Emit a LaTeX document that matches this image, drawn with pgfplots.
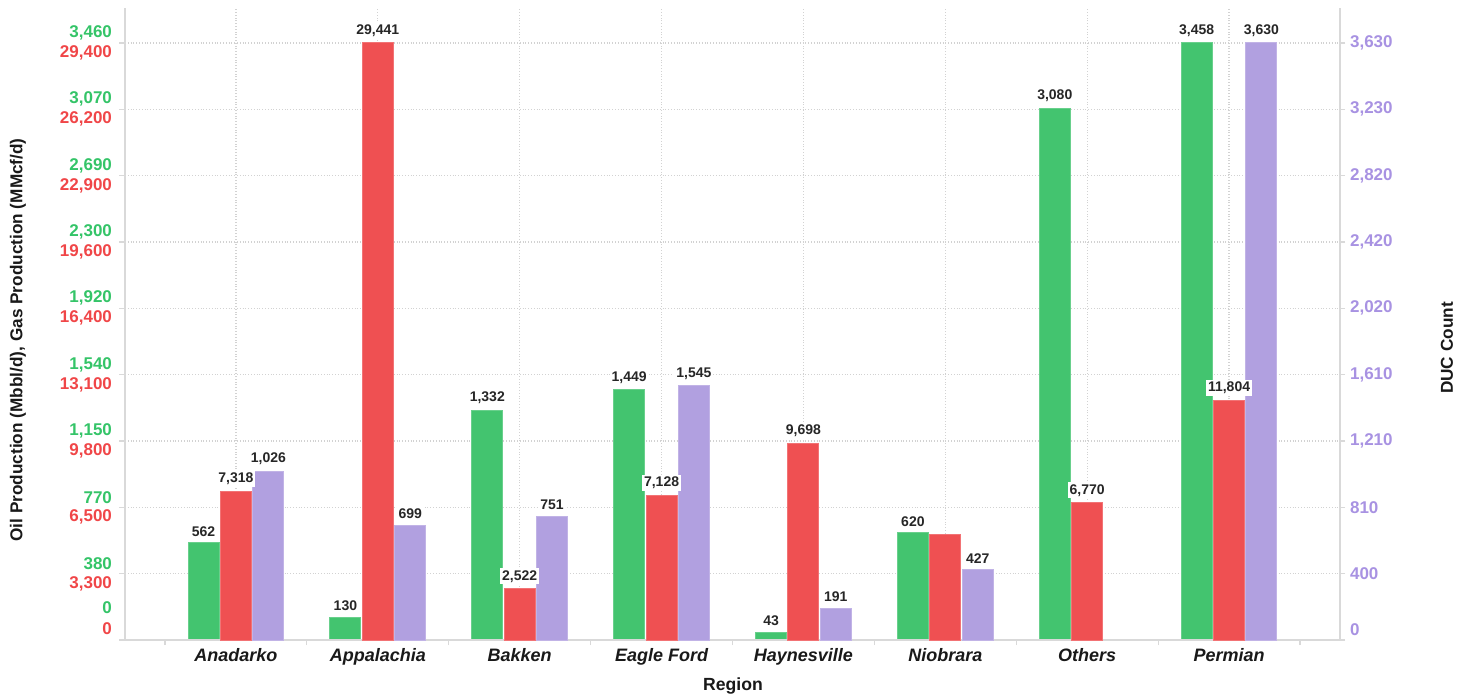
\documentclass[border=0pt]{standalone}
\usepackage{fontspec}
\setmainfont{Liberation Sans}
\usepackage{pgfplots}
\pgfplotsset{compat=1.18}
\definecolor{cgreen}{RGB}{67,196,111}
\definecolor{cred}{RGB}{239,80,82}
\definecolor{cpurple}{RGB}{177,160,224}
\definecolor{tgreen}{RGB}{52,196,104}
\definecolor{tred}{RGB}{240,70,72}
\definecolor{tpurple}{RGB}{168,146,226}
\definecolor{axgray}{RGB}{217,217,217}
\definecolor{gridgray}{RGB}{210,210,210}
\pgfplotsset{
  base/.style={
    width=607.5pt, height=316pt, scale only axis,
    xmin=-0.782, xmax=7.782, ymin=0,
    at={(62.5pt,28pt)}, anchor=south west,
    clip=false,
    ybar, bar width=15.5pt,
    axis line style={axgray, line width=0.8pt},
    tick style={axgray, line width=0.6pt},
    tick align=outside,
    yticklabel style={font=\bfseries\fontsize{8.5}{10}\selectfont},
    nodes near coords style={font=\bfseries\fontsize{7}{8}\selectfont, text=black!85, fill=white, inner sep=1pt, anchor=south, yshift=2pt},
    /pgf/number format/fixed,
    /pgf/number format/precision=0,
    /pgf/number format/1000 sep={,},
    /pgf/number format/assume math mode=true,
  },
}
\begin{document}
\begin{tikzpicture}
\useasboundingbox (0pt,0pt) rectangle (735.5pt,348pt);
% Oil (green)
\begin{axis}[base,
  ymax=3660.73,
  axis y line*=left, axis x line*=bottom,
  ytick={384.222,768.444,1152.667,1536.889,1921.111,2305.333,2689.556,3073.778,3458},
  yticklabels={380,770,{1,150},{1,540},{1,920},{2,300},{2,690},{3,070},{3,460}},
  yticklabel style={text=tgreen, yshift=5pt},
  extra y ticks={0}, extra y tick labels={0},
  extra y tick style={grid=none, yticklabel style={yshift=11pt}},
  major tick length=3pt,
  ymajorgrids, xmajorgrids,
  grid style={gridgray, densely dotted, line width=0.6pt},
  xtick={0,...,7},
  xticklabels={Anadarko,Appalachia,Bakken,Eagle Ford,Haynesville,Niobrara,Others,Permian},
  xticklabel style={font=\bfseries\itshape\fontsize{9}{10}\selectfont, text=black!90, anchor=base, yshift=-7.5pt},
  xtick style={draw=none},
]
\addplot[fill=cgreen, draw=cgreen!80!white, line width=0.5pt, bar shift=-16.2pt, nodes near coords]
  coordinates {(0,562) (1,130) (2,1332) (3,1449) (4,43) (5,620) (6,3080) (7,3458)};
\end{axis}
% DUC (purple)
\begin{axis}[base,
  ymax=3842.81,
  axis y line*=right, axis x line*=bottom,
  ytick={403.333,806.667,1210,1613.333,2016.667,2420,2823.333,3226.667,3630},
  yticklabels={400,810,{1,210},{1,610},{2,020},{2,420},{2,820},{3,230},{3,630}},
  yticklabel style={text=tpurple, anchor=west, xshift=-1pt},
  extra y ticks={0}, extra y tick labels={0},
  extra y tick style={yticklabel style={yshift=5pt}},
  major tick length=2.5pt,
  xtick={-0.5,0.5,...,7.5}, xticklabels={},
]
\addplot[fill=cpurple, draw=cpurple!80!white, line width=0.5pt, bar shift=16.2pt, nodes near coords]
  coordinates {(0,1026) (1,699) (2,751) (3,1545) (4,191) (5,427) (7,3630)};
\end{axis}
% Gas (red)
\begin{axis}[base,
  ymax=31167.0,
  axis y line*=left, hide x axis,
  y axis line style={draw=none}, ytick style={draw=none},
  ytick={3271.222,6542.444,9813.667,13084.889,16356.111,19627.333,22898.556,26169.778,29441},
  yticklabels={{3,300},{6,500},{9,800},{13,100},{16,400},{19,600},{22,900},{26,200},{29,400}},
  yticklabel style={text=tred, yshift=-5pt},
  extra y ticks={0}, extra y tick labels={0},
  extra y tick style={yticklabel style={yshift=10.5pt}},
  major tick length=3pt,
]
\addplot[fill=cred, draw=cred!80!white, line width=0.5pt, bar shift=0pt]
  coordinates {(5,5200)};
\addplot[fill=cred, draw=cred!80!white, line width=0.5pt, bar shift=0pt, nodes near coords]
  coordinates {(0,7318) (1,29441) (2,2522) (3,7128) (4,9698) (6,6770) (7,11804)};
\end{axis}
\node[rotate=90, font=\bfseries\fontsize{8.6}{10}\selectfont, text=black!90] at (9pt,178pt) {Oil Production (Mbbl/d), Gas Production (MMcf/d)};
\node[rotate=90, font=\bfseries\fontsize{8.6}{10}\selectfont, text=black!90] at (723.5pt,174pt) {DUC Count};
\node[font=\bfseries\fontsize{8.8}{10}\selectfont, text=black!90] at (366.5pt,5pt) {Region};
\end{tikzpicture}
\end{document}
